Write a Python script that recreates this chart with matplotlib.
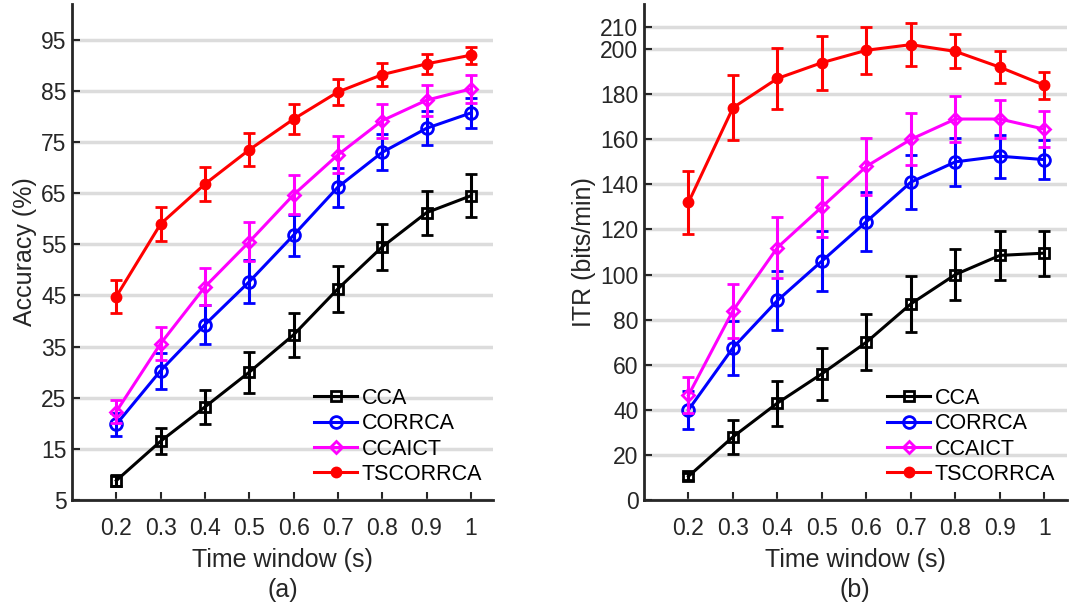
import numpy as np
import matplotlib
matplotlib.use('Agg')
import matplotlib.pyplot as plt

plt.rcParams['font.family'] = ['Liberation Sans', 'DejaVu Sans']

t = [0.2, 0.3, 0.4, 0.5, 0.6, 0.7, 0.8, 0.9, 1.0]
names = ['CCA', 'CORRCA', 'CCAICT', 'TSCORRCA']

# accuracy (%)
acc_cca = [8.8, 16.5, 23.2, 30.0, 37.3, 46.3, 54.5, 61.2, 64.5]
acc_cca_err = [1.0, 2.5, 3.4, 4.0, 4.3, 4.5, 4.5, 4.3, 4.2]
acc_corrca = [19.8, 30.3, 39.3, 47.7, 56.8, 66.2, 73.0, 77.7, 80.7]
acc_corrca_err = [2.3, 3.5, 3.8, 4.2, 4.0, 3.8, 3.5, 3.3, 3.0]
acc_ccaict = [22.3, 35.6, 46.7, 55.5, 64.7, 72.5, 79.2, 83.2, 85.4]
acc_ccaict_err = [2.3, 3.3, 3.6, 3.8, 3.8, 3.6, 3.3, 3.0, 2.8]
acc_ts = [44.8, 59.0, 66.8, 73.5, 79.5, 84.8, 88.2, 90.3, 92.0]
acc_ts_err = [3.2, 3.3, 3.3, 3.2, 3.0, 2.6, 2.3, 2.0, 1.7]

# ITR (bits/min)
itr_cca = [10.5, 28.0, 43.0, 56.0, 70.0, 87.0, 100.0, 108.5, 109.5]
itr_cca_err = [1.5, 7.5, 10.0, 11.5, 12.5, 12.5, 11.5, 11.0, 10.0]
itr_corrca = [40.0, 67.5, 88.5, 106.0, 123.5, 141.0, 150.0, 152.5, 151.0]
itr_corrca_err = [8.5, 12.0, 13.0, 13.5, 13.0, 12.0, 10.5, 9.5, 8.5]
itr_ccaict = [46.5, 84.0, 112.0, 130.0, 148.0, 160.0, 169.0, 169.0, 164.5]
itr_ccaict_err = [8.0, 12.0, 13.5, 13.5, 12.5, 11.5, 10.0, 8.5, 8.0]
itr_ts = [132.0, 174.0, 187.0, 194.0, 199.5, 202.0, 199.0, 192.0, 184.0]
itr_ts_err = [14.0, 14.5, 13.5, 12.0, 10.5, 9.5, 7.5, 7.0, 6.0]

acc_ticks = [5, 15, 25, 35, 45, 55, 65, 75, 85, 95]
itr_ticks = [0, 20, 40, 60, 80, 100, 120, 140, 160, 180, 200, 210]

colors = ['black', 'blue', 'magenta', 'red']
markers = ['s', 'o', 'D', 'o']
msizes = [6.5, 8.5, 6.5, 6.5]
mfaces = ['none', 'none', 'none', 'red']

fig = plt.figure(figsize=(10.78, 6.07), dpi=100)
ax1 = fig.add_axes([0.0668, 0.1763, 0.3905, 0.817])
ax2 = fig.add_axes([0.5974, 0.1763, 0.392, 0.817])

panels = [
    (ax1, [acc_cca, acc_corrca, acc_ccaict, acc_ts],
     [acc_cca_err, acc_corrca_err, acc_ccaict_err, acc_ts_err],
     acc_ticks, (5, 102), 'Accuracy (%)', '(a)'),
    (ax2, [itr_cca, itr_corrca, itr_ccaict, itr_ts],
     [itr_cca_err, itr_corrca_err, itr_ccaict_err, itr_ts_err],
     itr_ticks, (0, 220), 'ITR (bits/min)', '(b)'),
]

for ax, vals, errs, yt, ylim, ylab, tag in panels:
    lines = []
    for i in range(4):
        eb = ax.errorbar(t, vals[i], yerr=errs[i], color=colors[i], marker=markers[i],
                         ms=msizes[i], mfc=mfaces[i], mec=colors[i], mew=2,
                         lw=2.2, elinewidth=2.2, capsize=4, capthick=2.2, label=names[i],
                         zorder=3 + i)
        lines.append(eb[0])
    ax.set_xlim(0.1, 1.05)
    ax.set_ylim(*ylim)
    ax.set_xticks(t)
    ax.set_xticklabels(['0.2', '0.3', '0.4', '0.5', '0.6', '0.7', '0.8', '0.9', '1'])
    ax.set_yticks(yt)
    ax.yaxis.grid(True, color='#dcdcdc', lw=2.5)
    ax.set_axisbelow(True)
    for s in ['top', 'right']:
        ax.spines[s].set_visible(False)
    for s in ['left', 'bottom']:
        ax.spines[s].set_linewidth(2)
        ax.spines[s].set_color('#262626')
    ax.tick_params(direction='in', length=6, width=1.5, labelsize=16.5,
                   colors='#262626', pad=4)
    ax.tick_params(axis='x', pad=12)
    ax.set_ylabel(ylab, fontsize=18, color='#262626', labelpad=3)
    ax.set_xlabel('Time window (s)\n' + tag, fontsize=18, color='#262626',
                  linespacing=1.3, labelpad=6)
    ax.legend(lines, names, loc='lower left', bbox_to_anchor=(0.54, 0.0),
              frameon=False, fontsize=15.5, handlelength=2.0, handletextpad=0.2,
              labelspacing=0.2, borderpad=0.2)

fig.savefig('out.png', dpi=100)
